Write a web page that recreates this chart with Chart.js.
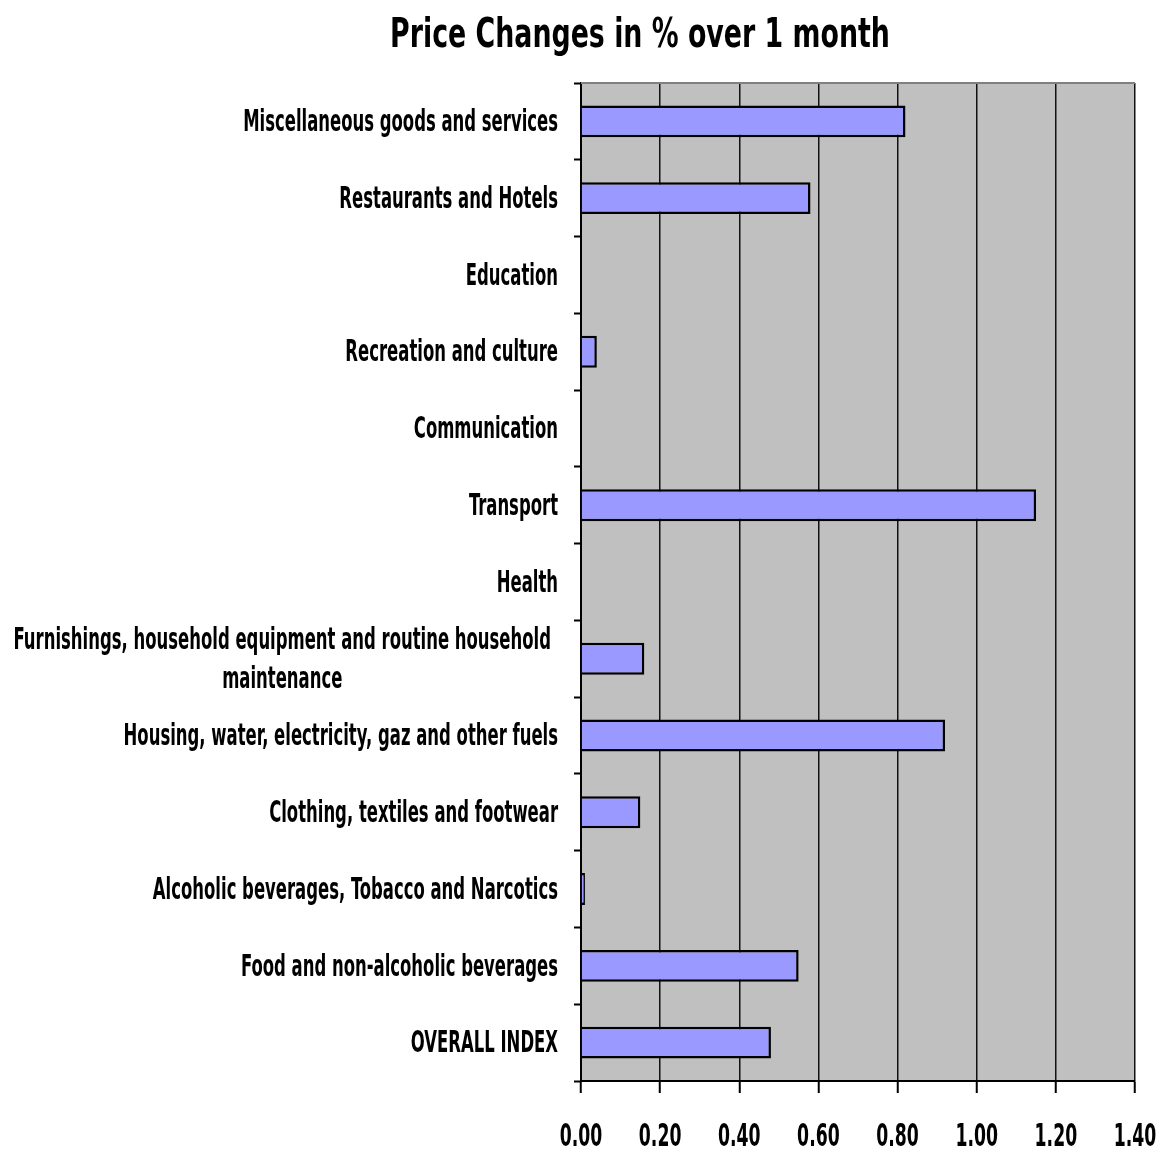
<!DOCTYPE html>
<html>
<head>
<meta charset="utf-8">
<title>Price Changes in % over 1 month</title>
<script src="https://cdn.jsdelivr.net/npm/chart.js@4/dist/chart.umd.min.js"></script>
<style>
    html, body { margin: 0; padding: 0; background: #ffffff; overflow: hidden; }
    #wrap { width: 1159px; height: 1153px; position: relative; }
</style>
</head>
<body>
<div id="wrap"><canvas id="priceChart"></canvas></div>
<script>
// Dados do gráfico (de cima para baixo)
const categories = [
    'Miscellaneous goods and services',
    'Restaurants and Hotels',
    'Education',
    'Recreation and culture',
    'Communication',
    'Transport',
    'Health',
    ['Furnishings, household equipment and routine household', 'maintenance'],
    'Housing, water, electricity, gaz and other fuels',
    'Clothing, textiles and footwear',
    'Alcoholic beverages, Tobacco and Narcotics',
    'Food and non-alcoholic beverages',
    'OVERALL INDEX'
];
const changes = [0.82, 0.58, 0, 0.04, 0, 1.15, 0, 0.16, 0.92, 0.15, 0.01, 0.55, 0.48];
const xTicks = [0.00, 0.20, 0.40, 0.60, 0.80, 1.00, 1.20, 1.40];
const chartTitle = 'Price Changes in % over 1 month';

const FONT = "'Liberation Sans Narrow', 'DejaVu Sans Condensed', Arial, sans-serif";

// Texto comprimido na horizontal (a fonte original é bem estreita)
function drawNarrow(ctx, text, x, y, squeeze) {
    ctx.save();
    ctx.translate(x, y);
    ctx.scale(squeeze, 1);
    ctx.fillText(text, 0, 0);
    ctx.restore();
}

// Fundo cinza da área do gráfico e borda superior
const plotBackground = {
    id: 'plotBackground',
    beforeDraw(chart) {
        const { ctx, chartArea: a } = chart;
        ctx.save();
        ctx.fillStyle = '#c0c0c0';
        ctx.fillRect(a.left, a.top, a.right - a.left, a.bottom - a.top);
        ctx.restore();
    },
    afterDraw(chart) {
        const { ctx, chartArea: a } = chart;
        ctx.save();
        ctx.strokeStyle = '#808080';
        ctx.lineWidth = 2;
        ctx.beginPath();
        ctx.moveTo(a.left, a.top);
        ctx.lineTo(a.right, a.top);
        ctx.stroke();
        ctx.restore();
    }
};

// Rótulos das categorias, dos eixos e título
const narrowText = {
    id: 'narrowText',
    afterDraw(chart) {
        const { ctx } = chart;
        const yScale = chart.scales.y;
        const xScale = chart.scales.x;
        ctx.save();
        ctx.fillStyle = '#000';
        ctx.textBaseline = 'middle';
        ctx.textAlign = 'center';

        // Categorias
        const squeeze = 0.61;
        ctx.font = 'bold 30px ' + FONT;
        categories.forEach((label, i) => {
            const lines = Array.isArray(label) ? label : [label];
            const y = yScale.getPixelForValue(i) + 2;
            const lineH = 39;
            const widths = lines.map(l => ctx.measureText(l).width * squeeze);
            const blockW = Math.max(...widths);
            const right = lines.length > 1 ? 551 : 558;
            const cx = right - blockW / 2;
            lines.forEach((l, k) => {
                const ly = y + (k - (lines.length - 1) / 2) * lineH;
                drawNarrow(ctx, l, cx, ly, squeeze);
            });
        });

        // Valores do eixo X
        ctx.font = 'bold 32px ' + FONT;
        xTicks.forEach(v => {
            drawNarrow(ctx, v.toFixed(2), xScale.getPixelForValue(v), 1138, 0.6);
        });

        // Título
        ctx.font = 'bold 40px ' + FONT;
        drawNarrow(ctx, chartTitle, 640, 37, 0.745);
        ctx.restore();
    }
};

const ctx = document.getElementById('priceChart');

new Chart(ctx, {
    type: 'bar',
    data: {
        labels: categories,
        datasets: [{
            label: chartTitle,
            data: changes,
            backgroundColor: '#9999ff',
            borderColor: '#000000',
            borderWidth: 2.5,
            categoryPercentage: 0.8,
            barPercentage: 0.52
        }]
    },
    options: {
        indexAxis: 'y',
        responsive: true,
        maintainAspectRatio: false,
        animation: false,
        layout: {
            padding: { top: 83, right: 24, bottom: 60, left: 0 }
        },
        plugins: {
            legend: { display: false },
            title: { display: false },
            tooltip: { enabled: false }
        },
        scales: {
            x: {
                min: 0,
                max: 1.4,
                afterBuildTicks: function(scale) {
                    scale.ticks = xTicks.map(v => ({ value: v }));
                },
                ticks: { display: false },
                grid: {
                    color: '#111',
                    lineWidth: 1.5,
                    tickLength: 12,
                    tickWidth: 2,
                    tickColor: '#000'
                },
                border: { display: true, color: '#000', width: 2 }
            },
            y: {
                afterFit: function(scale) {
                    scale.width = 581;
                },
                ticks: { display: false },
                grid: {
                    drawOnChartArea: false,
                    drawTicks: true,
                    tickLength: 7,
                    tickWidth: 2,
                    color: '#000',
                    offset: true
                },
                border: { display: true, color: '#000', width: 2 }
            }
        }
    },
    plugins: [plotBackground, narrowText]
});
</script>
</body>
</html>
